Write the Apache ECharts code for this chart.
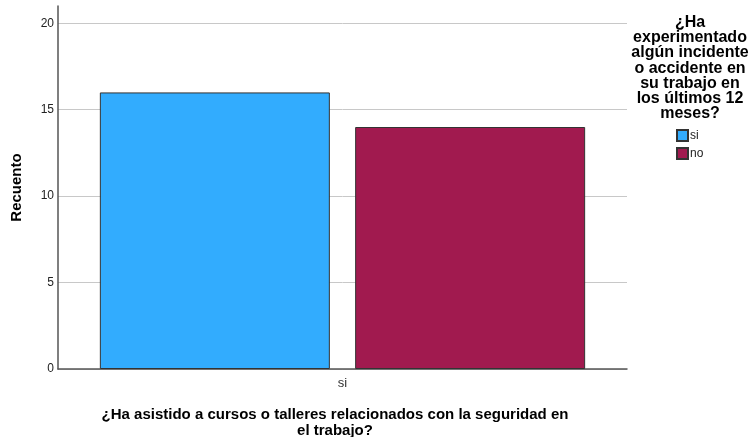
<!DOCTYPE html>
<html>
<head>
<meta charset="utf-8">
<script src="https://cdn.jsdelivr.net/npm/echarts@6/dist/echarts.min.js"></script>
<style>
  html, body { margin: 0; padding: 0; background: #fff; }
  #chart { width: 751px; height: 437px; }
</style>
</head>
<body>
<div id="chart"></div>
<script>
// datos
const categories = ['si'];
const seriesNames = ['si', 'no'];
const valuesSi = [16];
const valuesNo = [14];
const yTicks = [0, 5, 10, 15, 20];

const legendTitle = '¿Ha\nexperimentado\nalgún incidente\no accidente en\nsu trabajo en\nlos últimos 12\nmeses?';
const xTitle = '¿Ha asistido a cursos o talleres relacionados con la seguridad en\nel trabajo?';

const font = 'Arial, "Liberation Sans", sans-serif';

const myChart = echarts.init(document.getElementById('chart'));
const option = {
  animation: false,
  grid: {
    left: 58,
    right: 124,
    top: 6,
    bottom: 68,
    outerBoundsMode: 'none'
  },
  graphic: [
    {
      type: 'text',
      x: 335,
      y: 407,
      style: {
        text: xTitle,
        align: 'center',
        verticalAlign: 'top',
        font: 'bold 15px ' + font,
        lineHeight: 16,
        fill: '#000'
      }
    },
    {
      type: 'text',
      x: 690,
      y: 15,
      style: {
        text: legendTitle,
        align: 'center',
        verticalAlign: 'top',
        font: 'bold 16px ' + font,
        lineHeight: 15.2,
        fill: '#000'
      }
    }
  ],
  legend: {
    data: seriesNames,
    orient: 'vertical',
    left: 676,
    top: 129,
    padding: 0,
    itemWidth: 11,
    itemHeight: 11,
    itemGap: 5,
    icon: 'rect',
    textStyle: {
      fontFamily: font,
      fontSize: 12,
      lineHeight: 11,
      color: '#222',
      padding: [0, 0, 0, -3]
    }
  },
  xAxis: {
    type: 'category',
    data: categories,
    axisLine: { lineStyle: { color: '#555', width: 1.5 } },
    axisTick: { show: false },
    axisLabel: {
      fontFamily: font,
      fontSize: 13,
      color: '#333',
      margin: 8
    }
  },
  yAxis: {
    type: 'value',
    min: 0,
    max: 21,
    interval: 5,
    name: 'Recuento',
    nameLocation: 'middle',
    nameGap: 34,
    nameTextStyle: {
      fontFamily: font,
      fontSize: 15,
      fontWeight: 'bold',
      color: '#000'
    },
    axisLine: { show: true, lineStyle: { color: '#555', width: 1.5 } },
    axisTick: { show: false },
    axisLabel: {
      fontFamily: font,
      fontSize: 12,
      color: '#222',
      margin: 4,
      showMaxLabel: false,
      formatter: function (v) { return yTicks.indexOf(v) >= 0 ? String(v) : ''; }
    },
    splitLine: {
      showMaxLine: false,
      lineStyle: { color: '#c8c8c8', width: 1 }
    }
  },
  series: [
    {
      name: seriesNames[0],
      type: 'bar',
      data: valuesSi,
      barWidth: 230,
      barGap: '11%',
      itemStyle: { color: '#32acfe', borderColor: '#333', borderWidth: 1 }
    },
    {
      name: seriesNames[1],
      type: 'bar',
      data: valuesNo,
      barWidth: 230,
      itemStyle: { color: '#a11a4f', borderColor: '#333', borderWidth: 1 }
    }
  ]
};
myChart.setOption(option);
window.addEventListener('resize', function () {
  myChart.resize();
});
</script>
</body>
</html>
